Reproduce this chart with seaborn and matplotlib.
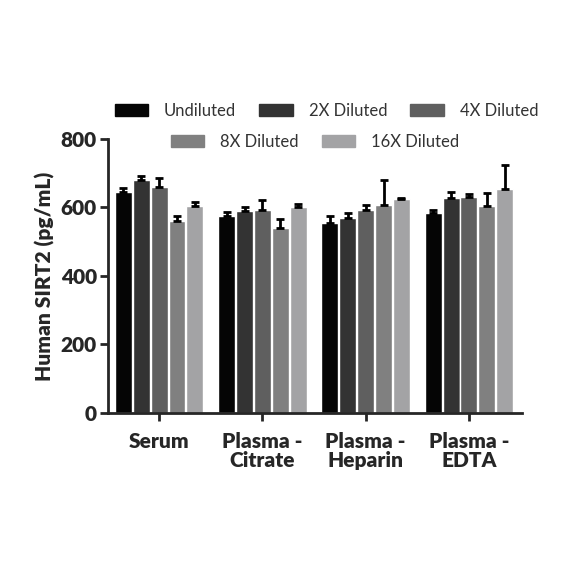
import numpy as np
import pandas as pd
import matplotlib
matplotlib.use("Agg")
import matplotlib.pyplot as plt
import seaborn as sns
from matplotlib.patches import Patch

samples = ["Serum", "Plasma -\nCitrate", "Plasma -\nHeparin", "Plasma -\nEDTA"]
dilutions = ["Undiluted", "2X Diluted", "4X Diluted", "8X Diluted", "16X Diluted"]
# mean values per dilution, one entry per sample type
undiluted = [646, 575, 555, 585]
dil_2x = [680, 590, 570, 627]
dil_4x = [659, 594, 592, 631]
dil_8x = [561, 541, 606, 605]
dil_16x = [604, 600, 626, 655]
# upper error (SD)
err_undiluted = [12, 12, 21, 9]
err_2x = [12, 10, 13, 19]
err_4x = [26, 27, 15, 7]
err_8x = [14, 26, 74, 38]
err_16x = [13, 11, 2, 68]
colors = ["#050505", "#333333", "#5f5f5f", "#808080", "#a3a3a5"]

means = [undiluted, dil_2x, dil_4x, dil_8x, dil_16x]
errs = [err_undiluted, err_2x, err_4x, err_8x, err_16x]
rows = []
for d, m, e in zip(dilutions, means, errs):
    for s, v, ee in zip(samples, m, e):
        rows.append({"sample": s, "dilution": d, "value": v, "err": ee})
df = pd.DataFrame(rows)

sns.set_style("ticks")
plt.rcParams['font.family'] = ['Lato', 'DejaVu Sans']

fig = plt.figure(figsize=(5.84, 5.84), dpi=100)
ax = fig.add_axes([0.185, 0.293, 0.709, 0.469])
sns.barplot(data=df, x="sample", y="value", hue="dilution", hue_order=dilutions,
            palette=colors, width=0.865, gap=0.05, errorbar=None, saturation=1,
            legend=False, ax=ax)

# one-sided error bars on top of each bar
for i, d in enumerate(dilutions):
    cont = ax.containers[i]
    sub = df[df.dilution == d]
    for bar, (_, r) in zip(cont.patches, sub.iterrows()):
        xc = bar.get_x() + bar.get_width() / 2
        ax.errorbar(xc, r["value"], yerr=[[0], [r["err"]]], fmt="none",
                    ecolor="black", elinewidth=2, capsize=3, capthick=2)

ax.set_xlim(-0.495, 3.515)
ax.set_ylim(0, 800)
ax.set_yticks([0, 200, 400, 600, 800])
ax.set_xlabel("")
ax.set_ylabel("Human SIRT2 (pg/mL)", fontsize=15, fontweight="heavy", labelpad=4)
for sp in ["top", "right"]:
    ax.spines[sp].set_visible(False)
for sp in ["left", "bottom"]:
    ax.spines[sp].set_linewidth(2)
ax.tick_params(axis="both", width=2, length=6, labelsize=15)
ax.tick_params(axis="x", pad=8)
ax.tick_params(axis="y", pad=2)
for lab in ax.get_xticklabels() + ax.get_yticklabels():
    lab.set_fontweight("heavy")
for lab in ax.get_xticklabels():
    lab.set_linespacing(1.0)

h = [Patch(facecolor=c, edgecolor=c) for c in colors]
kw = dict(loc="center", frameon=False, fontsize=12, handlelength=2.0, handleheight=0.7,
          columnspacing=1.4, handletextpad=0.95)
leg1 = fig.legend(h[:3], dilutions[:3], bbox_to_anchor=(0.559, 0.81), ncol=3, **kw)
leg2 = fig.legend(h[3:], dilutions[3:], bbox_to_anchor=(0.539, 0.757), ncol=2, **kw)
for leg in (leg1, leg2):
    for t in leg.get_texts():
        t.set_color("#333333")

fig.savefig("out.png", dpi=100)
